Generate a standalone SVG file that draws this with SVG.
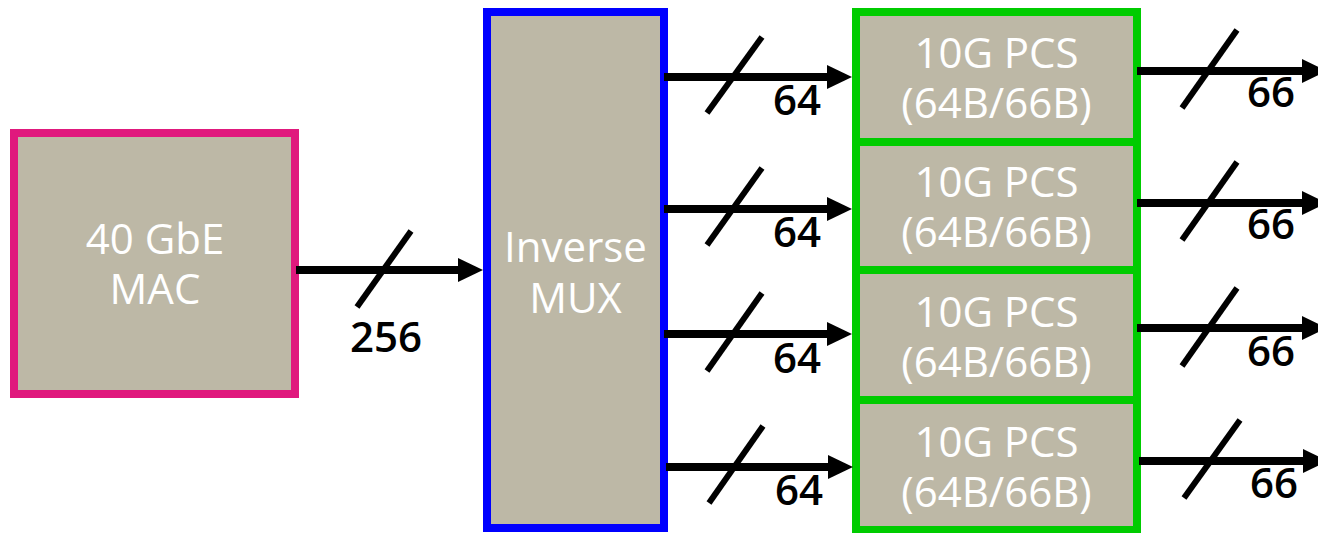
<svg xmlns="http://www.w3.org/2000/svg" width="1318" height="533" viewBox="0 0 1318 533">
  <style>
    .block { fill: #BDB8A6; stroke-width: 8; }
    .mac { stroke: #E0197D; }
    .mux { stroke: #0000FF; }
    .pcs { stroke: #00CC00; }
    .name { font-family: "Open Sans", "Liberation Sans", sans-serif; font-size: 42px; fill: #FFFFFF; text-anchor: middle; }
    .bus { stroke: #000000; stroke-width: 8; fill: none; marker-end: url(#head); }
    .slash { stroke: #000000; stroke-width: 6; }
    .width { font-family: "Open Sans", "Liberation Sans", sans-serif; font-size: 42px; font-weight: 600; fill: #000000; }
  </style>
  <defs>
    <marker id="head" markerUnits="userSpaceOnUse" markerWidth="26" markerHeight="24" refX="0" refY="12" orient="auto" overflow="visible">
      <path d="M0,0 L25,12 L0,24 Z" fill="#000000"/>
    </marker>
  </defs>
  <rect width="1318" height="533" fill="#FFFFFF"/>

  <g id="mac">
    <rect class="block mac" x="14" y="133" width="281" height="261"/>
    <text class="name" x="155" y="254">40 GbE</text>
    <text class="name" x="155" y="304">MAC</text>
  </g>

  <g id="inverse-mux">
    <rect class="block mux" x="487" y="12" width="177" height="516"/>
    <text class="name" x="575.5" y="262">Inverse</text>
    <text class="name" x="575.5" y="313">MUX</text>
  </g>

  <g id="pcs-1">
    <rect class="block pcs" x="856" y="12" width="281" height="130"/>
    <text class="name" x="996.5" y="68">10G PCS</text>
    <text class="name" x="996.5" y="118">(64B/66B)</text>
  </g>
  <g id="pcs-2">
    <rect class="block pcs" x="856" y="142" width="281" height="128"/>
    <text class="name" x="996.5" y="197">10G PCS</text>
    <text class="name" x="996.5" y="247">(64B/66B)</text>
  </g>
  <g id="pcs-3">
    <rect class="block pcs" x="856" y="270" width="281" height="130"/>
    <text class="name" x="996.5" y="327">10G PCS</text>
    <text class="name" x="996.5" y="377">(64B/66B)</text>
  </g>
  <g id="pcs-4">
    <rect class="block pcs" x="856" y="400" width="281" height="130"/>
    <text class="name" x="996.5" y="457">10G PCS</text>
    <text class="name" x="996.5" y="507">(64B/66B)</text>
  </g>

  <g id="connectors">
    <!-- MAC to inverse MUX, 256 bits -->
    <line class="bus" x1="296" y1="270" x2="458" y2="270"/>
    <line class="slash" x1="357" y1="307" x2="411" y2="231"/>
    <text class="width" x="350" y="352">256</text>

    <!-- inverse MUX to each PCS lane, 64 bits -->
    <line class="bus" x1="664" y1="77" x2="827" y2="77"/>
    <line class="slash" x1="707" y1="113" x2="762" y2="37"/>
    <text class="width" x="773" y="115">64</text>

    <line class="bus" x1="664" y1="209" x2="827" y2="209"/>
    <line class="slash" x1="707" y1="245" x2="762" y2="168"/>
    <text class="width" x="773" y="247">64</text>

    <line class="bus" x1="664" y1="334" x2="827" y2="334"/>
    <line class="slash" x1="707" y1="371" x2="762" y2="293"/>
    <text class="width" x="773" y="373">64</text>

    <line class="bus" x1="666" y1="467" x2="828" y2="467"/>
    <line class="slash" x1="709" y1="503" x2="763" y2="426"/>
    <text class="width" x="775" y="505">64</text>

    <!-- PCS lane outputs, 66 bits -->
    <line class="bus" x1="1137" y1="71" x2="1302" y2="71"/>
    <line class="slash" x1="1182" y1="108" x2="1237" y2="30"/>
    <text class="width" x="1247" y="107">66</text>

    <line class="bus" x1="1137" y1="203" x2="1302" y2="203"/>
    <line class="slash" x1="1182" y1="240" x2="1237" y2="162"/>
    <text class="width" x="1247" y="239">66</text>

    <line class="bus" x1="1137" y1="328" x2="1302" y2="328"/>
    <line class="slash" x1="1182" y1="366" x2="1237" y2="288"/>
    <text class="width" x="1247" y="366">66</text>

    <line class="bus" x1="1139" y1="461" x2="1303" y2="461"/>
    <line class="slash" x1="1184" y1="498" x2="1240" y2="420"/>
    <text class="width" x="1250" y="498">66</text>
  </g>
</svg>
